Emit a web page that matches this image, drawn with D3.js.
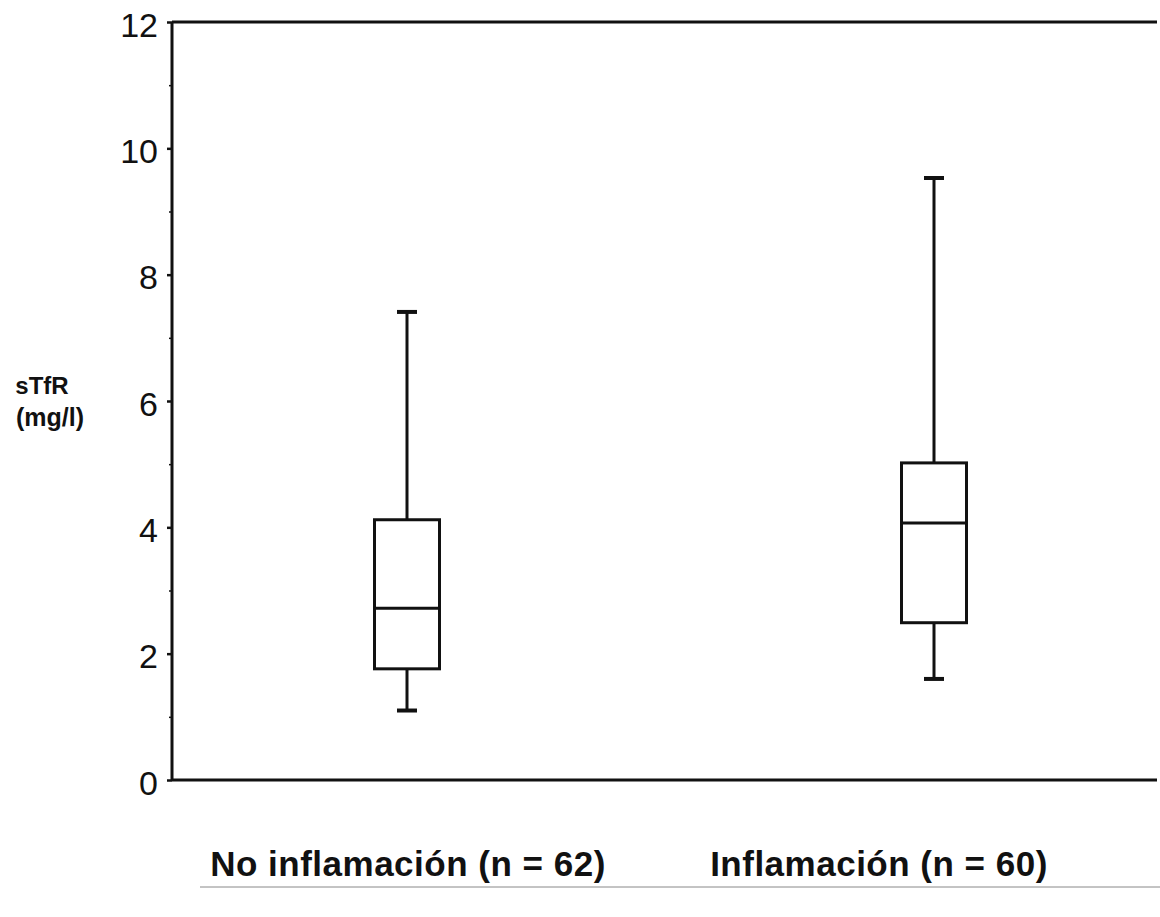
<!DOCTYPE html>
<html>
<head>
<meta charset="utf-8">
<script src="https://cdn.jsdelivr.net/npm/d3@7"></script>
<style>
  body { margin: 0; background: #fff; }
  text { font-family: Arial, "Liberation Sans", sans-serif; fill: #111; }
</style>
</head>
<body>
<div id="chart"></div>
<script>
// data
const groups = ["No inflamación (n = 62)", "Inflamación (n = 60)"];
const whiskerLow = [1.1, 1.6];
const q1 = [1.76, 2.49];
const median = [2.72, 4.07];
const q3 = [4.12, 5.02];
const whiskerHigh = [7.41, 9.53];
const yTicks = [0, 2, 4, 6, 8, 10, 12];
const yMinorTicks = [1, 3, 5, 7, 9, 11];

const W = 1160, H = 917;
const plot = {left: 172, right: 1157, top: 22, bottom: 780};

const svg = d3.select("#chart").append("svg")
    .attr("width", W).attr("height", H);

const y = d3.scaleLinear().domain([0, 12]).range([plot.bottom, plot.top]);
const x = d3.scalePoint().domain(groups).range([407, 934]);
// the category labels sit a little off the box centres
const labelX = d3.scalePoint().domain(groups).range([408, 879]);

// frame: left axis, bottom line, top line
const frame = svg.append("g").attr("stroke", "#111").attr("stroke-width", 3);
frame.append("line").attr("x1", plot.left).attr("x2", plot.left).attr("y1", plot.top).attr("y2", plot.bottom);
frame.append("line").attr("x1", plot.left).attr("x2", plot.right).attr("y1", y(0)).attr("y2", y(0));
frame.append("line").attr("x1", plot.left).attr("x2", plot.right).attr("y1", y(12)).attr("y2", y(12));

const yAxis = d3.axisLeft(y).tickValues(yTicks).tickSize(5).tickPadding(9)
    .tickFormat(d3.format("d"));
const ag = svg.append("g")
    .attr("transform", "translate(" + plot.left + ",0)")
    .call(yAxis);
ag.select(".domain").remove();
ag.selectAll(".tick line").attr("stroke", "#111").attr("stroke-width", 2.5);
ag.selectAll(".tick text")
    .style("font-family", "Arial, 'Liberation Sans', sans-serif")
    .style("font-size", "34px")
    .attr("dy", "0.42em")
    .attr("fill", "#111");

svg.append("g")
    .attr("transform", "translate(" + plot.left + ",0)")
    .call(d3.axisLeft(y).tickValues(yMinorTicks).tickSize(3).tickFormat(""))
    .call(g => g.select(".domain").remove())
    .selectAll(".tick line").attr("stroke", "#111").attr("stroke-width", 1.5);

// axis title
svg.append("text").attr("x", 42).attr("y", 394)
    .attr("text-anchor", "middle").style("font-size", "24px").style("font-weight", "bold")
    .text("sTfR");
svg.append("text").attr("x", 50).attr("y", 426)
    .attr("text-anchor", "middle").style("font-size", "25px").style("font-weight", "bold")
    .text("(mg/l)");

// boxes
const boxW = 65, capW = 20;
const boxes = svg.append("g").attr("stroke", "#111").attr("stroke-width", 3).attr("fill", "none");
groups.forEach((g, i) => {
  const cx = x(g);
  boxes.append("line").attr("x1", cx).attr("x2", cx)
      .attr("y1", y(whiskerHigh[i])).attr("y2", y(q3[i]));
  boxes.append("line").attr("x1", cx).attr("x2", cx)
      .attr("y1", y(q1[i])).attr("y2", y(whiskerLow[i]));
  boxes.append("line").attr("x1", cx - capW / 2).attr("x2", cx + capW / 2)
      .attr("y1", y(whiskerHigh[i])).attr("y2", y(whiskerHigh[i])).attr("stroke-width", 4);
  boxes.append("line").attr("x1", cx - capW / 2).attr("x2", cx + capW / 2)
      .attr("y1", y(whiskerLow[i])).attr("y2", y(whiskerLow[i])).attr("stroke-width", 4);
  boxes.append("rect")
      .attr("x", cx - boxW / 2).attr("width", boxW)
      .attr("y", y(q3[i])).attr("height", y(q1[i]) - y(q3[i]))
      .attr("fill", "#fff");
  boxes.append("line").attr("x1", cx - boxW / 2).attr("x2", cx + boxW / 2)
      .attr("y1", y(median[i])).attr("y2", y(median[i]));
});

// group labels
svg.selectAll(".glabel").data(groups).enter().append("text")
    .attr("class", "glabel")
    .attr("x", d => labelX(d))
    .attr("y", 876)
    .attr("text-anchor", "middle")
    .style("font-size", "35px").style("font-weight", "bold")
    .style("letter-spacing", "0.5px")
    .text(d => d);

// faint rule under the labels
svg.append("line").attr("x1", 200).attr("x2", 1160).attr("y1", 887).attr("y2", 887)
    .attr("stroke", "#888").attr("stroke-width", 1);
</script>
</body>
</html>
